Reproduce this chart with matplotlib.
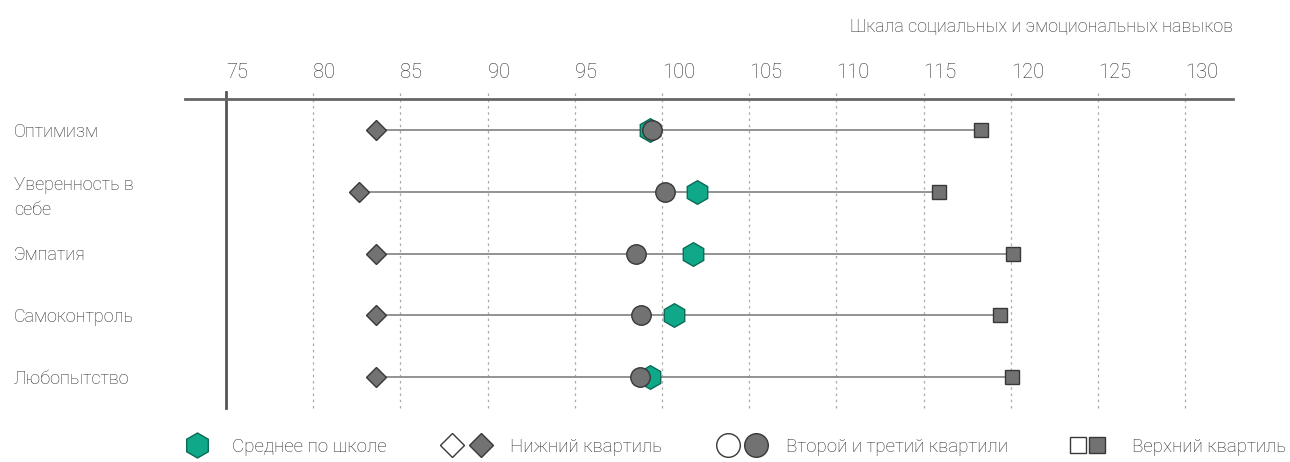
import matplotlib.pyplot as plt
from matplotlib.lines import Line2D
from matplotlib.legend_handler import HandlerTuple, HandlerLine2D

plt.rcParams['font.family'] = ['Roboto', 'DejaVu Sans']
plt.rcParams['font.weight'] = 'light'

# data
skills = ['Оптимизм', 'Уверенность в\nсебе', 'Эмпатия', 'Самоконтроль', 'Любопытство']
lower_q = [83.6, 82.6, 83.6, 83.6, 83.6]
mid_q = [99.4, 100.2, 98.5, 98.8, 98.75]
school_mean = [99.3, 102.0, 101.8, 100.7, 99.3]
upper_q = [118.3, 115.9, 120.1, 119.4, 120.05]
ticks = [75, 80, 85, 90, 95, 100, 105, 110, 115, 120, 125, 130]
legend_labels = ['Среднее по школе', 'Нижний квартиль', 'Второй и третий квартили', 'Верхний квартиль']

GREEN = '#0fa888'
GREEN_EDGE = '#0b6b57'
GRAY = '#727272'
GRAY_EDGE = '#383838'
TEXT = '#2e2e2e'

W, H = 1290, 462
fig = plt.figure(figsize=(W / 100, H / 100), dpi=100)
ax = fig.add_axes([185 / W, 1 - 408 / H, (1233 - 185) / W, (408 - 99) / H])

ax.set_xlim(72.65, 132.74)
ax.set_ylim(len(skills) - 0.5, -0.5)

ext = 1 + 7 / 309
for t in ticks[1:]:
    ax.axvline(t, ymin=0, ymax=ext, color='#aaaaaa', lw=0.9, ls=(0, (2, 3)), clip_on=False, zorder=1)
ax.axvline(ticks[0], ymin=0, ymax=ext, color='#555555', lw=2, clip_on=False, zorder=1)

ys = range(len(skills))
for y, lo, hi in zip(ys, lower_q, upper_q):
    ax.plot([lo, hi], [y, y], color='#8a8a8a', lw=1.3, zorder=2)

ax.plot(lower_q, ys, 'D', ms=10, color=GRAY, mec=GRAY_EDGE, mew=1, zorder=3)
ax.plot(upper_q, ys, 's', ms=10, color=GRAY, mec=GRAY_EDGE, mew=1, zorder=3)
ax.plot(school_mean, ys, 'h', ms=17, color=GREEN, mec=GREEN_EDGE, mew=1, zorder=4)
ax.plot(mid_q, ys, 'o', ms=14, color=GRAY, mec=GRAY_EDGE, mew=1, zorder=5)

for s in ['left', 'right', 'bottom']:
    ax.spines[s].set_visible(False)
ax.spines['top'].set_color('#666666')
ax.spines['top'].set_linewidth(2)

ax.xaxis.tick_top()
ax.set_xticks(ticks)
ax.set_xticklabels([str(t) for t in ticks])
ax.tick_params(axis='x', length=0, pad=12, labelsize=14.5, labelcolor=TEXT)
for lbl in ax.get_xticklabels():
    lbl.set_ha('left')

ax.set_yticks(list(ys))
ax.set_yticklabels(skills)
ax.tick_params(axis='y', length=0, pad=123, labelsize=13, labelcolor=TEXT)
for lbl in ax.get_yticklabels():
    lbl.set_ha('left')
    lbl.set_linespacing(1.5)

fig.text(1233 / W, 1 - 27 / H, 'Шкала социальных и эмоциональных навыков',
         ha='right', va='center', fontsize=13, color=TEXT)

h_mean = Line2D([], [], marker='h', ls='', ms=18, color=GREEN, mec=GREEN_EDGE)
h_lo = (Line2D([], [], marker='D', ls='', ms=12, mfc='white', mec=GRAY_EDGE),
        Line2D([], [], marker='D', ls='', ms=12, color=GRAY, mec=GRAY_EDGE))
h_mid = (Line2D([], [], marker='o', ls='', ms=17, mfc='white', mec=GRAY_EDGE),
         Line2D([], [], marker='o', ls='', ms=17, color=GRAY, mec=GRAY_EDGE))
h_hi = (Line2D([], [], marker='s', ls='', ms=11, mfc='white', mec=GRAY_EDGE),
        Line2D([], [], marker='s', ls='', ms=11, color=GRAY, mec=GRAY_EDGE))
leg = fig.legend([h_mean, h_lo, h_mid, h_hi], legend_labels,
                 handler_map={h_mean: HandlerLine2D(xpad=0.96),
                              h_lo: HandlerTuple(ndivide=None, pad=0.69),
                              h_mid: HandlerTuple(ndivide=None, pad=0.59),
                              h_hi: HandlerTuple(ndivide=None, pad=-0.37)},
                 loc='center left', bbox_to_anchor=(165.4 / W, 1 - 447 / H),
                 ncol=4, frameon=False, fontsize=13.5, labelcolor=TEXT,
                 handlelength=2.4, handletextpad=1.15, columnspacing=3.05,
                 borderpad=0, borderaxespad=0)

fig.savefig('out.png', dpi=100)
